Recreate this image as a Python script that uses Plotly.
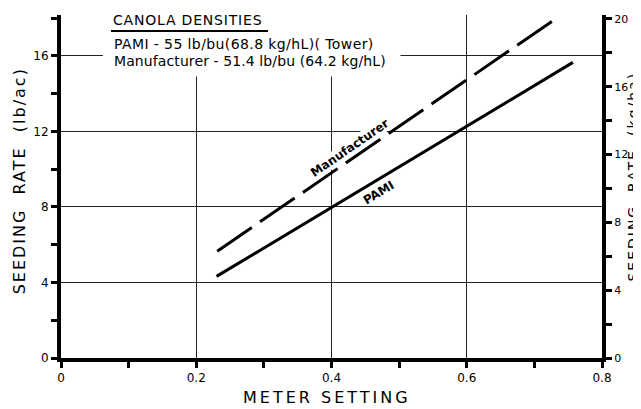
import plotly.graph_objects as go

# Data
pami_setting = [0.230, 0.757]
pami_rate = [4.32, 15.65]
manu_setting = [0.231, 0.736]
manu_rate = [5.65, 18.07]

x_ticks = [0, 0.2, 0.4, 0.6, 0.8]
x_tick_labels = ["0", "0.2", "0.4", "0.6", "0.8"]
y_ticks = [0, 4, 8, 12, 16]
y2_ticks = [0, 4, 8, 12, 16, 20]

FONT = "DejaVu Sans"

fig = go.Figure()
fig.add_trace(go.Scatter(x=manu_setting, y=manu_rate, mode="lines",
                         line=dict(color="black", width=3, dash="42px,10px"),
                         showlegend=False, hoverinfo="skip"))
fig.add_trace(go.Scatter(x=pami_setting, y=pami_rate, mode="lines",
                         line=dict(color="black", width=3),
                         showlegend=False, hoverinfo="skip"))
# invisible trace to activate right axis
fig.add_trace(go.Scatter(x=[None], y=[None], yaxis="y2", showlegend=False))

axis_common = dict(showline=True, linewidth=4, linecolor="black",
                   ticks="outside", ticklen=6, tickwidth=3, tickcolor="black",
                   zeroline=False, mirror=False)

fig.update_layout(
    width=641, height=409,
    margin=dict(l=53, r=47, t=5, b=59),
    paper_bgcolor="white", plot_bgcolor="white",
    font=dict(family=FONT, color="black", size=12),
    xaxis=dict(range=[0, 0.8], tickvals=x_ticks, ticktext=x_tick_labels,
               showgrid=True, gridcolor="#222", gridwidth=1,
               tickfont=dict(size=12),
               minor=dict(dtick=0.1, ticks="outside", ticklen=6, tickwidth=3,
                          tickcolor="black", showgrid=False),
               **axis_common),
    yaxis=dict(range=[0, 18.16], tickvals=y_ticks,
               showgrid=True, gridcolor="#222", gridwidth=1,
               tickfont=dict(size=12),
               minor=dict(dtick=2, ticks="outside", ticklen=6, tickwidth=3,
                          tickcolor="black", showgrid=False),
               **axis_common),
    yaxis2=dict(range=[0, 20.23], tickvals=y2_ticks, overlaying="y", side="right",
                showgrid=False, tickfont=dict(size=11),
                minor=dict(dtick=2, ticks="outside", ticklen=6, tickwidth=3,
                           tickcolor="black", showgrid=False),
                **axis_common),
)

# white area behind the density note (interrupts grid lines)
fig.add_shape(type="rect", xref="x", yref="y", x0=0.062, x1=0.502, y0=14.9, y1=18.16,
              fillcolor="white", line=dict(width=0), layer="between")
# underline of heading
fig.add_shape(type="line", xref="paper", yref="paper", x0=0.0924, x1=0.3826,
              y0=0.9536, y1=0.9536, line=dict(color="black", width=2))

ann = [
    dict(text="CANOLA DENSITIES", x=0.0924, y=0.9855, size=14, ls=0.8),
    dict(text="PAMI - 55 lb/bu(68.8 kg/hL)( Tower)", x=0.094, y=0.916, size=14, ls=0.4),
    dict(text="Manufacturer - 51.4 lb/bu (64.2 kg/hL)", x=0.094, y=0.8667, size=14, ls=0.1),
]
for a in ann:
    fig.add_annotation(text='<span style="letter-spacing:%spx">%s</span>' % (a["ls"], a["text"]),
                       x=a["x"], y=a["y"], xref="paper", yref="paper",
                       xanchor="left", yanchor="middle", showarrow=False,
                       font=dict(size=a["size"], family=FONT, color="black"))

fig.add_annotation(text="<b>Manufacturer</b>", x=0.427, y=11.1, xref="x", yref="y",
                   textangle=-34.6, showarrow=False, bgcolor="white", borderpad=0,
                   font=dict(size=12, family=FONT))
fig.add_annotation(text="<b>PAMI</b>", x=0.469, y=8.74, xref="x", yref="y",
                   textangle=-31, showarrow=False, font=dict(size=12, family=FONT))

# axis titles
title_style = '<span style="letter-spacing:%spx">%s</span>'
fig.add_annotation(text=title_style % (2, "SEEDING  RATE  (lb/ac)"), x=-0.0776, y=0.515,
                   xref="paper", yref="paper",
                   textangle=-90, showarrow=False, xanchor="center", yanchor="middle",
                   font=dict(size=16, family=FONT))
fig.add_annotation(text=title_style % (2, "SEEDING  RATE  (kg/ha)"), x=1.058, y=0.53,
                   xref="paper", yref="paper",
                   textangle=-90, showarrow=False, xanchor="center", yanchor="middle",
                   font=dict(size=14, family=FONT))
fig.add_annotation(text=title_style % (3, "METER SETTING"), x=0.4926, y=-0.116,
                   xref="paper", yref="paper",
                   showarrow=False, xanchor="center", yanchor="middle",
                   font=dict(size=16, family=FONT))

fig.write_html("out.html")
